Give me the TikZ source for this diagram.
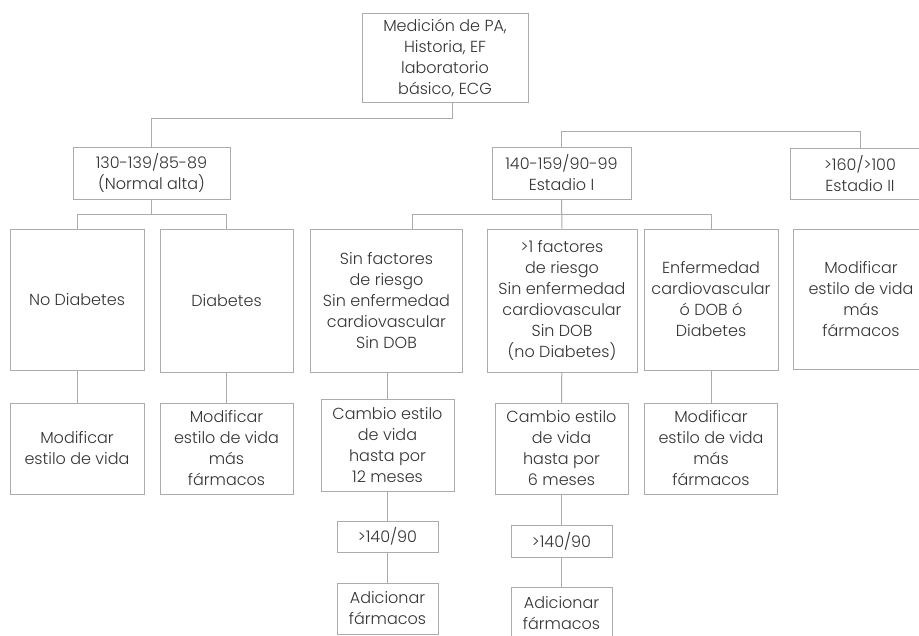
\documentclass[tikz,border=0pt]{standalone}
\usepackage{fontspec}
\setmainfont{Poppins Light}
\definecolor{linegray}{HTML}{ABABAB}
\definecolor{txtgray}{HTML}{333333}

\begin{document}
\begin{tikzpicture}[x=1pt,y=-1pt,
  font=\fontsize{16}{21}\selectfont, text=txtgray,
  box/.style={draw=linegray, line width=1pt, align=center, inner sep=0pt},
  link/.style={draw=linegray, line width=1pt}]

\clip (0,0) rectangle (919,635);

% ---- top ----
\node[box, minimum width=166pt, minimum height=89pt] (med) at (445,57.5)
  {Medición de PA,\\Historia, EF\\laboratorio\\básico, ECG};

% ---- stages ----
\node[box, minimum width=157pt, minimum height=52pt] (normal) at (151.5,173)
  {130-139/85-89\\(Normal alta)};
\node[box, minimum width=139pt, minimum height=52pt] (est1) at (561.5,173)
  {140-159/90-99\\Estadio I};
\node[box, minimum width=140pt, minimum height=51pt] (est2) at (860,173.5)
  {>160/>100\\Estadio II};

% ---- conditions ----
\node[box, minimum width=134pt, minimum height=141pt] (nodiab) at (77,299.5) {No Diabetes};
\node[box, minimum width=133pt, minimum height=143pt] (diab) at (226.5,300.5) {Diabetes};
\node[box, minimum width=152pt, minimum height=143pt] (sinfac) at (386.5,300.5)
  {Sin factores\\de riesgo\\Sin enfermedad\\cardiovascular\\Sin DOB};
\node[box, minimum width=150pt, minimum height=143pt] (masfac) at (562,300.5)
  {>1 factores\\de riesgo\\Sin enfermedad\\cardiovascular\\Sin DOB\\(no Diabetes)};
\node[box, minimum width=134pt, minimum height=141pt] (enf) at (711,299.5)
  {Enfermedad\\cardiovascular\\ó DOB ó\\Diabetes};
\node[box, minimum width=136pt, minimum height=140pt] (modr) at (861,299)
  {Modificar\\estilo de vida\\más\\fármacos};

% ---- treatment ----
\node[box, minimum width=134pt, minimum height=91pt] (modl) at (77,448.5)
  {Modificar\\estilo de vida};
\node[box, minimum width=133pt, minimum height=91pt] (modd) at (226.5,448.5)
  {Modificar\\estilo de vida\\más\\fármacos};
\node[box, minimum width=133pt, minimum height=92pt] (camb12) at (387.5,445)
  {Cambio estilo\\de vida\\hasta por\\12 meses};
\node[box, minimum width=133pt, minimum height=91pt] (camb6) at (561.5,448.5)
  {Cambio estilo\\de vida\\hasta por\\6 meses};
\node[box, minimum width=133pt, minimum height=91pt] (mode) at (711,448.5)
  {Modificar\\estilo de vida\\más\\fármacos};

\node[box, minimum width=101pt, minimum height=31pt] (gt1) at (387.5,536.5) {>140/90};
\node[box, minimum width=101pt, minimum height=32pt] (gt2) at (561.5,541) {>140/90};
\node[box, minimum width=101pt, minimum height=51pt] (adi1) at (387.5,608.5)
  {Adicionar\\fármacos};
\node[box, minimum width=101pt, minimum height=52pt] (adi2) at (561.5,613)
  {Adicionar\\fármacos};

% ---- connectors ----
\coordinate (medj) at ([xshift=7pt]med.south);
\path[link] (medj) -- ++(0,16) -| (normal.north);
\path[link] (est1.north) -- ++(0,-15) -| (est2.north);

\path[link] (normal.south) -- ++(0,15) coordinate (nj);
\path[link] (nj) -| (nodiab.north);
\path[link] (nj) -| (diab.north);

\path[link] (est1.south) -- (masfac.north);
\coordinate (ej) at ([yshift=-15pt]est1.south);
\path[link] (ej) -| ([xshift=26pt]sinfac.north);
\path[link] (ej) -| (enf.north);

\path[link] (nodiab) -- (modl);
\path[link] (diab) -- (modd);
\path[link] (sinfac.south -| camb12) -- (camb12.north);
\path[link] (camb12) -- (gt1);
\path[link] (gt1) -- (adi1);
\path[link] (masfac) -- (camb6);
\path[link] (camb6) -- (gt2);
\path[link] (gt2) -- (adi2);
\path[link] (enf) -- (mode);

\end{tikzpicture}
\end{document}
